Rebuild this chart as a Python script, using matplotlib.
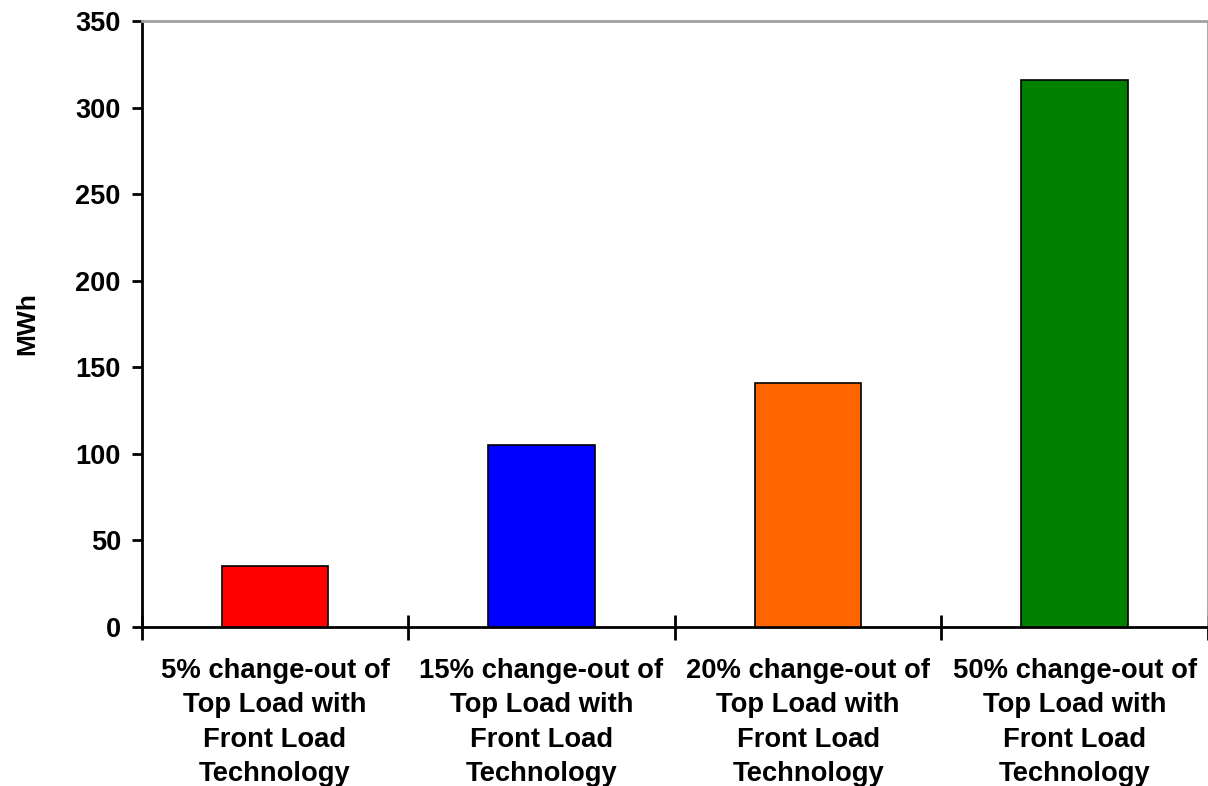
import matplotlib
matplotlib.use("Agg")
import matplotlib.pyplot as plt

plt.rcParams['font.family'] = ['Liberation Sans', 'DejaVu Sans']
plt.rcParams['font.weight'] = 'bold'

categories = [
    "5% change-out of\nTop Load with\nFront Load\nTechnology",
    "15% change-out of\nTop Load with\nFront Load\nTechnology",
    "20% change-out of\nTop Load with\nFront Load\nTechnology",
    "50% change-out of\nTop Load with\nFront Load\nTechnology",
]
values = [35, 105, 141, 316]
colors = ["#ff0000", "#0000ff", "#ff6600", "#008000"]
yticks = [0, 50, 100, 150, 200, 250, 300, 350]

fig = plt.figure(figsize=(12.08, 7.86), dpi=100)
ax = fig.add_axes([0.1173, 0.2027, 0.8827, 0.7706])

x = list(range(len(categories)))
ax.bar(x, values, width=0.4, color=colors, edgecolor="black", linewidth=1.2, zorder=3)

ax.set_xlim(-0.5, len(categories) - 0.5)
ax.set_ylim(0, 350)
ax.set_yticks(yticks)
ax.set_yticklabels([str(v) for v in yticks], fontsize=19.5, fontweight='bold')

ax.set_xticks(x)
ax.set_xticklabels(categories, fontsize=19.7, fontweight='bold', linespacing=1.42)
ax.set_xticks([i - 0.5 for i in range(len(categories) + 1)], minor=True)
ax.tick_params(axis='x', which='major', length=0, pad=22.5)
ax.tick_params(axis='x', which='minor', direction='inout', length=18, width=2)
ax.tick_params(axis='y', which='major', direction='out', length=7, width=2, pad=8)

ax.set_ylabel("MWh", fontsize=19, fontweight='bold', labelpad=26)

ax.spines['left'].set_linewidth(2)
ax.spines['bottom'].set_linewidth(2)
ax.spines['top'].set_color('#a0a0a0')
ax.spines['top'].set_linewidth(2)
ax.spines['right'].set_color('#a0a0a0')
ax.spines['right'].set_linewidth(2)

fig.savefig("out.png", dpi=100)
